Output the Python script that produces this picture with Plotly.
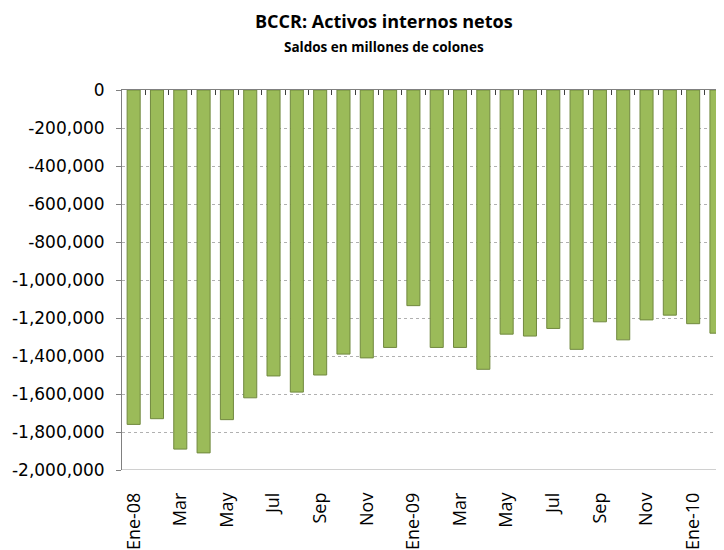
import plotly.graph_objects as go

meses = ["Ene-08", "Feb-08", "Mar-08", "Abr-08", "May-08", "Jun-08", "Jul-08", "Ago-08",
         "Sep-08", "Oct-08", "Nov-08", "Dic-08", "Ene-09", "Feb-09", "Mar-09", "Abr-09",
         "May-09", "Jun-09", "Jul-09", "Ago-09", "Sep-09", "Oct-09", "Nov-09", "Dic-09",
         "Ene-10", "Feb-10"]
saldos = [-1760000, -1730000, -1890000, -1910000, -1735000, -1620000, -1505000, -1590000,
          -1500000, -1390000, -1410000, -1355000, -1135000, -1355000, -1355000, -1470000,
          -1285000, -1295000, -1255000, -1365000, -1220000, -1315000, -1210000, -1185000,
          -1230000, -1280000]
etiquetas = ["Ene-08", "Mar", "May", "Jul", "Sep", "Nov", "Ene-09",
             "Mar", "May", "Jul", "Sep", "Nov", "Ene-10"]
y_ticks = list(range(0, -2000001, -200000))
y_text = ["0" if v == 0 else "-" + format(-v, ",") for v in y_ticks]

x = list(range(len(meses)))
x_fin = 24.98  # last month is cut by the right edge, as in the original

trace = go.Bar(x=x, y=saldos, hovertext=meses, hoverinfo="text+y",
               marker=dict(color="#9BBB59", line=dict(color="#71893F", width=1)))
# invisible trace just to carry the top axis with tick marks
top = go.Scatter(x=[0], y=[0], xaxis="x2", mode="markers",
                 marker=dict(opacity=0), hoverinfo="skip", showlegend=False)

# page body has an 8px margin, so the figure is smaller than the window
layout = go.Layout(
    width=708, height=542,
    margin=dict(l=114, r=0, t=82, b=80, autoexpand=False),
    paper_bgcolor="white", plot_bgcolor="white",
    bargap=0.44, showlegend=False,
    xaxis=dict(range=[-0.5, x_fin], tickmode="array", automargin=False,
               tickvals=x[::2], ticktext=etiquetas, tickangle=-90,
               ticks="", showline=False, showgrid=False, zeroline=False,
               ticklabelstandoff=18,
               tickfont=dict(family="Open Sans", size=18, color="black")),
    xaxis2=dict(overlaying="x", side="top", range=[-0.5, x_fin], anchor="y",
                automargin=False,
                tickmode="array", tickvals=[i + 0.5 for i in x[:-1]] + [-0.5],
                ticks="inside", ticklen=5, tickcolor="#404040",
                showticklabels=False, showline=True, linecolor="#808080",
                linewidth=1, showgrid=False, zeroline=False),
    yaxis=dict(range=[-2000000, 0], tickvals=y_ticks, ticktext=y_text,
               automargin=False,
               ticks="outside", ticklen=5, tickcolor="#808080",
               showline=True, linecolor="#808080", linewidth=1,
               showgrid=True, gridcolor="#B0B0B0", griddash="dot", gridwidth=1,
               zeroline=False, ticklabelstandoff=8,
               tickfont=dict(family="DejaVu Sans", size=17, color="black")),
    shapes=[dict(type="line", xref="paper", yref="y", x0=0, x1=1,
                 y0=-2000000, y1=-2000000, line=dict(color="#A0A0A0", width=1))],
    annotations=[
        dict(text="<b>BCCR: Activos internos netos</b>", xref="paper", yref="paper",
             x=0.441, y=1.0, yshift=69, yanchor="middle", showarrow=False,
             font=dict(family="Open Sans", size=18, color="black")),
        dict(text="<b>Saldos en millones de colones</b>", xref="paper", yref="paper",
             x=0.441, y=1.0, yshift=43, yanchor="middle", showarrow=False,
             font=dict(family="Open Sans", size=13.5, color="black")),
    ],
)

fig = go.Figure(data=[trace, top], layout=layout)
fig.write_html("out.html")
